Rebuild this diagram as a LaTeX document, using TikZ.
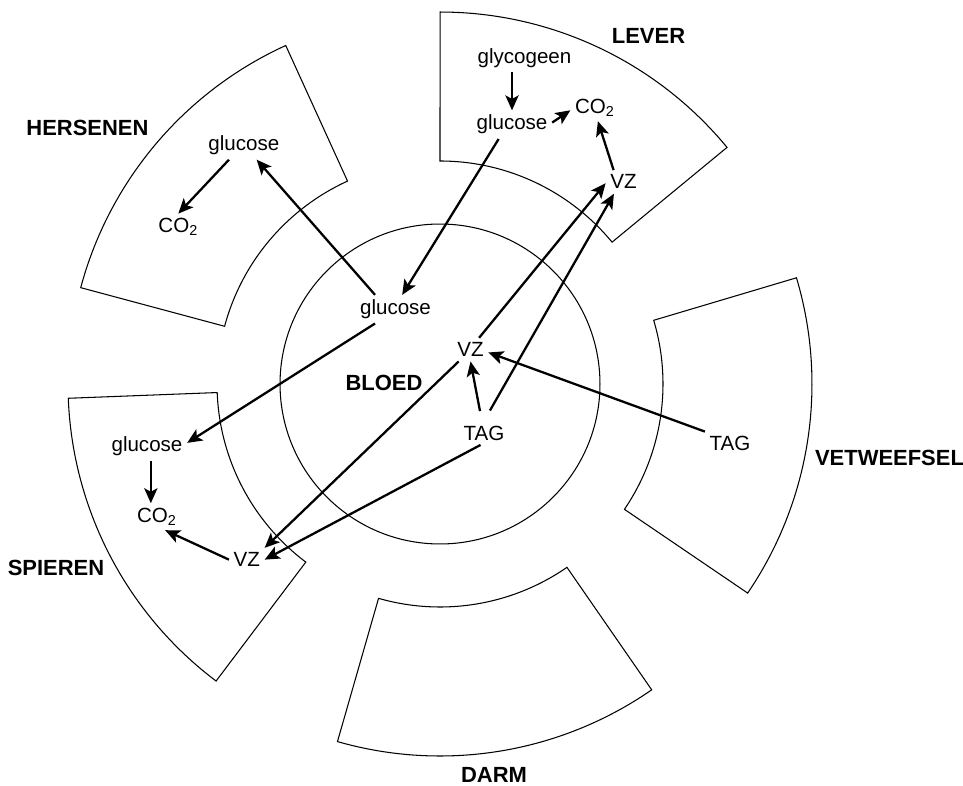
\documentclass[tikz,border=0pt]{standalone}
\usepackage{fontspec}
\setmainfont{Liberation Sans}
\usetikzlibrary{arrows.meta}
\newcommand\organsector[2]{%
  \draw[organ] (#1:223) -- (#1:372) arc[start angle=#1,end angle=#2,radius=7.44cm]
    -- (#2:223) arc[start angle=#2,end angle=#1,radius=4.46cm] -- cycle;}
\begin{document}
\begin{tikzpicture}[x=0.02cm,y=0.02cm,
  lbl/.style={anchor=base,inner sep=2.5pt,font=\fontsize{11.7}{14}\selectfont},
  organlabel/.style={anchor=base,inner sep=0pt,font=\fontsize{12.5}{15}\selectfont\bfseries},
  flow/.style={line width=1.3pt,-{Stealth[length=8.5pt,width=7.5pt,inset=2pt]}},
  organ/.style={line width=0.6pt}]
\useasboundingbox (0,0) rectangle (963,785);
% blood circle
\coordinate (C) at (440,401);
\draw[organ] (C) circle[radius=3.2cm];
% organ sectors
\begin{scope}[shift={(440,401)}]
  \organsector{114.5}{165}   % hersenen
  \organsector{39.5}{90}     % lever
  \organsector{-34.2}{16.6}  % vetweefsel
  \organsector{-106}{-55.3}  % darm
  \organsector{182.2}{233}   % spieren
\end{scope}
% organ labels
\node[organlabel] (hers) at (87.5,649) {HERSENEN};
\node[organlabel] (lever) at (648.5,741.6) {LEVER};
\node[organlabel] (vet) at (889.5,319.3) {VETWEEFSEL};
\node[organlabel] (darm) at (494,2.3) {DARM};
\node[organlabel] (spier) at (56,209.3) {SPIEREN};
\node[organlabel] (bloed) at (384,394.3) {BLOED};
% hersenen
\node[lbl] (glucH) at (243.8,634.3) {glucose};
\node[lbl] (co2H) at (178.3,552.3) {CO\textsubscript{2}};
% lever
\node[lbl] (gly) at (524.5,721.7) {glycogeen};
\node[lbl] (glucL) at (512,655) {glucose};
\node[lbl] (co2L) at (595,671.7) {CO\textsubscript{2}};
\node[lbl] (vzL) at (623.5,596) {VZ};
% bloed
\node[lbl] (glucB) at (395.5,470.5) {glucose};
\node[lbl] (vzB) at (470.5,428.3) {VZ};
\node[lbl] (tagB) at (484,345) {TAG};
% vetweefsel
\node[lbl] (tagV) at (730,334.3) {TAG};
% spieren
\node[lbl] (glucS) at (147,333.3) {glucose};
\node[lbl] (co2S) at (157,262.7) {CO\textsubscript{2}};
\node[lbl] (vzS) at (246.8,218.3) {VZ};
% connectors
\draw[flow] (gly.south -| glucL.north) -- (glucL.north);
\draw[flow] (glucL.3) -- (co2L.186);
\draw[flow] (vzL.130) -- (co2L.282);
\draw[flow] (glucL.227) -- (glucB.65);
\draw[flow] (glucB.145) -- (glucH.312);
\draw[flow] (glucH.224) -- (co2H.north);
\draw[flow] (glucB.215) -- (glucS.5);
\draw[flow] (vzB.54) -- (vzL.184);
\draw[flow,shorten <=0.24cm] (tagB.north) -- (vzL.231);
\draw[flow] (tagV.north west) -- (vzB.351);
\draw[flow,shorten <=0.2cm] (tagB.100) -- (vzB.south);
\draw[flow] (vzB.225) -- (vzS.north east);
\draw[flow] (tagB.254) -- (vzS.east);
\draw[flow] (glucS.285) -- (glucS.285 |- co2S.north);
\draw[flow] (vzS.west) -- (co2S.301);
\end{tikzpicture}
\end{document}
